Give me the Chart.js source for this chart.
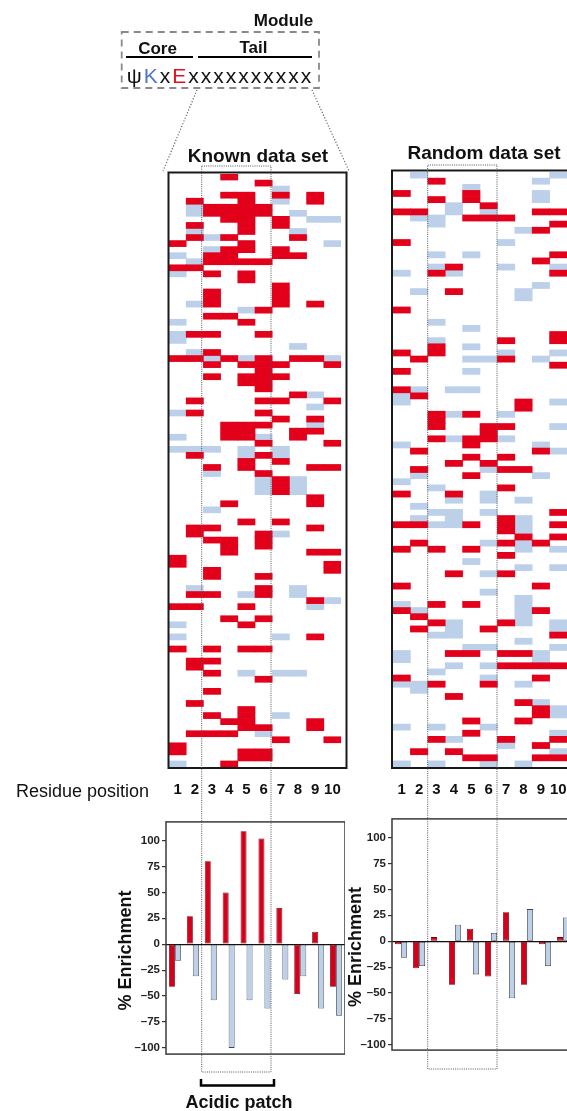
<!DOCTYPE html>
<html>
<head>
<meta charset="utf-8">
<script src="https://cdn.jsdelivr.net/npm/chart.js@4.4.1/dist/chart.umd.min.js"></script>
<style>
body { margin: 0; background: #fff; }
#fig { position: relative; width: 567px; height: 1111px; overflow: hidden; background: #fff;
       font-family: "Liberation Sans", Arial, sans-serif; color: #111; }
#fig canvas { position: absolute; }
#fig svg { position: absolute; left: 0; top: 0; pointer-events: none; }
.t { position: absolute; white-space: nowrap; line-height: 1; transform: translate(-50%, -50%); }
.b { font-weight: bold; }
</style>
</head>
<body>
<div id="fig">
  <canvas id="heatKnown" width="181" height="628" style="left:167px;top:171px"></canvas>
  <canvas id="heatRandom" width="183" height="630" style="left:391px;top:169px"></canvas>
  <canvas id="barKnown" width="230" height="250" style="left:115px;top:813px"></canvas>
  <canvas id="barRandom" width="227" height="249" style="left:345px;top:810px"></canvas>

  <svg width="567" height="1111">
    <!-- module -->
    <rect x="121.7" y="32" width="197.3" height="56" fill="none" stroke="#8a8a8a" stroke-width="1.8" stroke-dasharray="7 5"/>
    <line x1="126" y1="57" x2="193" y2="57" stroke="#000" stroke-width="2"/>
    <line x1="198" y1="57" x2="312" y2="57" stroke="#000" stroke-width="2"/>
    <line x1="197" y1="90" x2="163" y2="171" stroke="#666" stroke-width="1.2" stroke-dasharray="1.2 1.8"/>
    <line x1="312" y1="90" x2="349" y2="171" stroke="#666" stroke-width="1.2" stroke-dasharray="1.2 1.8"/>
    <!-- heatmap frames -->
    <rect x="168.5" y="172.5" width="178" height="595.5" fill="none" stroke="#1a1a1a" stroke-width="2"/>
    <rect x="392" y="170.5" width="181" height="597.5" fill="none" stroke="#1a1a1a" stroke-width="2"/>
    <!-- acidic patch windows -->
    <rect x="201.7" y="166" width="69.3" height="906" fill="none" stroke="#555" stroke-width="1" stroke-dasharray="1 1.2"/>
    <rect x="427.7" y="165" width="69.3" height="904" fill="none" stroke="#555" stroke-width="1" stroke-dasharray="1 1.2"/>
    <path d="M201 1079 V1085.5 H274 V1079" fill="none" stroke="#000" stroke-width="2.5"/>
  </svg>

  <div class="t b" style="left:283.5px;top:20px;font-size:17px">Module</div>
  <div class="t b" style="left:157.5px;top:47.5px;font-size:17px">Core</div>
  <div class="t b" style="left:253.5px;top:47px;font-size:17px">Tail</div>
  <div class="t" style="left:220px;top:75px;font-size:21px;letter-spacing:2px">ψ<span style="color:#5474c8">K</span>x<span style="color:#e3101e">E</span>xxxxxxxxxx</div>
  <div class="t b" style="left:258px;top:155px;font-size:19px">Known data set</div>
  <div class="t b" style="left:484px;top:152px;font-size:19px">Random data set</div>
  <div class="t" style="left:16px;top:782px;font-size:18px;transform:none">Residue position</div>
  <div class="t b" style="left:239px;top:1101.5px;font-size:18px">Acidic patch</div>
</div>

<script>
Chart.defaults.font.family = '"Liberation Sans", Arial, sans-serif';
Chart.defaults.animation = false;

const residuePositions = ['1', '2', '3', '4', '5', '6', '7', '8', '9', '10'];

// r = acidic residue (red), b = basic residue (blue), one string per peptide
const knownRows = [
    '...r......', '.....r....', '......b...', '...rr.r.r.', '.r..r.b.r.',
    '.brrrr....', '.brrrr.b..', '...rr.r.bb', '.r..r.r...', '.b..r..b..',
    '.rbr...r..', 'r...r....b', '..brr.r...', 'b.rr..rr..', '.brrrr....',
    'rr........', 'b.r.r.....', '....r.....', '......r...', '..r...r...',
    '..r...r...', '.br...r.r.', '....br....', '..rr......', 'b...r.....',
    '..........', 'brr..r....', 'b.........', '.......b..', '.br.......',
    'rrbrbr.rrb', '..r.rrr..r', '.....r....', '..r.rrr...', '....rr....',
    '.....r....', '.......rb.', '.r...rr..r', '........b.', 'br...r....',
    '......r.r.', '...rrr..b.', '...rr..rr.', 'b..rrb.r..', '.....r...r',
    'bbb.b.b...', '.r..brb...', '....r.r...', '..r.r...rr', '..b..r....',
    '.....brb..', '.....brb..', '.....brb..', '........r.', '...r....r.',
    '..b.......', '..........', '....r.r...', '.rr.....r.', '.r...rb...',
    '..rr.r....', '...r.r....', '...r....rr', 'r.........', 'r........r',
    '..r......r', '..r..r....', '..........', '.b...r.b..', '.rr.br.b..',
    '........rb', 'rr..r...b.', '..........', '...r.r....', 'b...r.....',
    '..........', 'b.....b.r.', '..........', 'r.r.rr....', '..........',
    '.rr.......', '.r........', '..r.b.bb..', '.....r....', '..........',
    '..r.......', '..........', '.r........', '....r.....', '..r.r.b...',
    '...rr...r.', '....rr..r.', '.rrr.b....', '......r..r', 'r.........',
    'r...rr....', '....rr....', 'b..r......'
];

const randomRows = [
    '.b.......b', '..r.....b.', '....b.....', 'r...r...b.', '..r.r...b.',
    '...b.r....', 'rr.b.b..rr', '.bb.rrr...', '..b......r', '.......br.',
    '..........', 'r.....b...', '..........', '..b.b....r', '........r.',
    '..br..b..b', 'b.rb.....r', '..........', '........b.', '.b.r...b..',
    '.......b..', '..........', 'r.........', '..........', '..b.......',
    '....b.....', '.........r', '..b...r..r', '..r.b.....', 'r.r...b..b',
    '.r..bbr.b.', '.........r', 'r...b.....', '..........', '..........',
    'rb.bb.....', 'br........', 'b......r.b', '.......r..', '..rbr.b...',
    '..r.......', '..r..rr..b', '.....r....', '..rbrrb...', 'b...r...b.',
    '.r......rb', '....r.r...', '...r.r....', '.r...brr..', '.b..r...b.',
    'b.........', '..b...r...', 'r..r.b....', '...b.b.b..', '.b........',
    '..bb.b...r', '.b.b..rb..', 'rrbbr.rb.r', '......rb..', '.......r.r',
    '.r...brbr.', 'r.r.r..b.b', '......r...', '....b.....', '.......b.b',
    '...r.br...', '..........', 'r.......r.', '.....b....', '.......b..',
    'b.r.r..b..', 'rb.....br.', '.r.....b..', '..rb..rb.b', '.r.b.r...b',
    '..bb.....r', '.......b..', '....bb...b', 'b..rr.rrb.', 'b.......b.',
    '...b.brrrr', '..b.......', 'r....b..r.', 'bbr..r.b..', '.b........',
    '...r......', '.......rb.', '........rb', '........rb', '....r..r..',
    'b.b..b....', '....r....b', '..rb..r..r', '......b.r.', '.r.r.....b',
    '....rr..rr', 'b.b..b.b..'
];

// % enrichment per residue position (red = acidic, blue = basic)
const knownAcidic = [-41, 27, 80, 50, 109, 102, 35, -48, 12, -41];
const knownBasic = [-16, -31, -54, -100, -54, -62, -34, -31, -62, -69];
const randomAcidic = [-3, -26, 4, -42, 12, -34, 28, -42, -3, 4];
const randomBasic = [-16, -24, -1, 16, -32, 8, -55, 31, -24, 23];
const enrichTicks = [-100, -75, -50, -25, 0, 25, 50, 75, 100];

const RED = 'rgb(226, 0, 26)';
const BLUE = 'rgb(189, 208, 234)';

function cellsOf(rows, code) {
    var out = [];
    rows.forEach(function (s, r) {
        for (var c = 0; c < s.length; c++) {
            if (s[c] === code) out.push({ x: residuePositions[c], y: [r, r + 1] });
        }
    });
    return out;
}

function heatChart(id, rows) {
    return new Chart(document.getElementById(id), {
        type: 'bar',
        data: {
            labels: residuePositions,
            datasets: [
                { label: 'Acidic', data: cellsOf(rows, 'r'), backgroundColor: RED },
                { label: 'Basic', data: cellsOf(rows, 'b'), backgroundColor: BLUE }
            ]
        },
        options: {
            responsive: false,
            layout: { padding: { left: 2, right: 7, top: 3, bottom: 0 } },
            datasets: { bar: { grouped: false, barPercentage: 1, categoryPercentage: 1, borderWidth: 0, borderSkipped: false } },
            plugins: { legend: { display: false }, tooltip: { enabled: false } },
            scales: {
                x: {
                    // tick marks hidden, their length only pushes the labels down
                    grid: { display: false, drawTicks: true, tickLength: 14 },
                    border: { display: false },
                    ticks: {
                        color: '#111', padding: 0, autoSkip: false, maxRotation: 0, minRotation: 0,
                        font: { size: 15, weight: 'bold' }
                    }
                },
                y: { display: false, reverse: true, min: 0, max: rows.length }
            }
        }
    });
}

const frame = {
    id: 'frame',
    afterDraw(chart) {
        var a = chart.chartArea, c = chart.ctx;
        c.save();
        c.strokeStyle = '#3a3a3a';
        c.lineWidth = 1.5;
        c.strokeRect(a.left, a.top, a.right - a.left, a.bottom - a.top);
        c.restore();
    }
};

function enrichChart(id, acidic, basic, yMin, yMax, axisWidth) {
    return new Chart(document.getElementById(id), {
        type: 'bar',
        data: {
            labels: residuePositions,
            datasets: [
                { label: 'Acidic', data: acidic, backgroundColor: 'rgb(212, 0, 28)', borderColor: 'rgb(120, 0, 10)', borderWidth: 0.8 },
                { label: 'Basic', data: basic, backgroundColor: BLUE, borderColor: '#444', borderWidth: 0.8 }
            ]
        },
        options: {
            responsive: false,
            datasets: { bar: { barPercentage: 1, categoryPercentage: 0.67, borderSkipped: false } },
            plugins: { legend: { display: false }, tooltip: { enabled: false } },
            scales: {
                x: { display: false },
                y: {
                    min: yMin,
                    max: yMax,
                    afterBuildTicks: function (s) { s.ticks = enrichTicks.map(function (v) { return { value: v }; }); },
                    afterFit: function (s) { s.width = axisWidth; },
                    border: { display: false },
                    grid: {
                        drawTicks: true,
                        tickLength: 4,
                        tickColor: '#333',
                        tickWidth: 1.2,
                        lineWidth: 1.2,
                        color: function (ctx) { return ctx.tick && ctx.tick.value === 0 ? '#111' : 'rgba(0,0,0,0)'; }
                    },
                    ticks: {
                        color: '#222',
                        padding: 2,
                        font: { size: 11.5, weight: 'bold' },
                        callback: function (v) { return v < 0 ? '\u2013' + Math.abs(v) : String(v); }
                    },
                    title: {
                        display: true,
                        // trailing spaces nudge the centred title a little lower, as in the original
                        text: '% Enrichment\u00a0\u00a0\u00a0\u00a0\u00a0',
                        color: '#111',
                        padding: 0,
                        font: { size: 18, weight: 'bold' }
                    }
                }
            }
        },
        plugins: [frame]
    });
}

heatChart('heatKnown', knownRows);
heatChart('heatRandom', randomRows);
enrichChart('barKnown', knownAcidic, knownBasic, -106, 118, 51);
enrichChart('barRandom', randomAcidic, randomBasic, -105, 118, 47);
</script>
</body>
</html>
